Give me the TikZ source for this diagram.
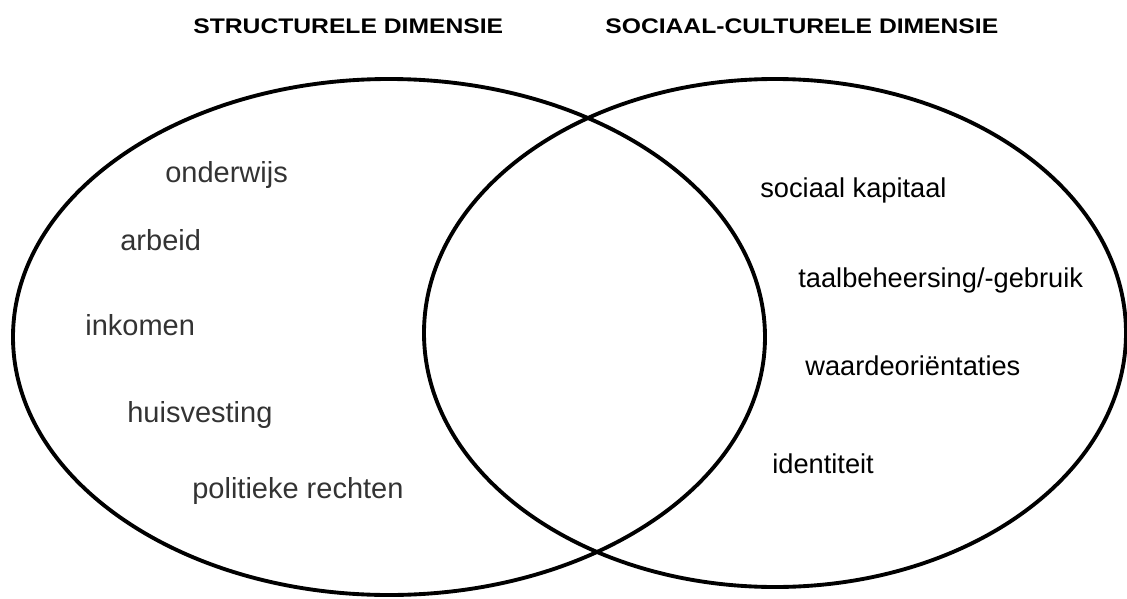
\documentclass[tikz,border=0pt]{standalone}
\usepackage{fontspec}
\setmainfont{Liberation Sans}
\newfontfamily\titlefont[FakeStretch=1.17]{Liberation Sans}
\usepackage{tikz}
\usetikzlibrary{shapes.geometric}

\begin{document}
\begin{tikzpicture}[
    venn/.style={draw, ellipse, line width=2.2pt, inner sep=0pt},
    dimtitle/.style={anchor=base west, inner sep=0pt, font=\titlefont\bfseries\fontsize{12}{14}\selectfont},
    leftlabel/.style={anchor=base west, inner sep=0pt, text=black!80, font=\fontsize{16.5}{19}\selectfont},
    rightlabel/.style={anchor=base west, inner sep=0pt, font=\fontsize{15.5}{18}\selectfont}
  ]
  \useasboundingbox (0,0) rectangle (22.54,-11.98);

  % the two dimensions
  \node[venn, minimum width=15.04cm, minimum height=10.32cm] (structureel) at (7.78,-6.74) {};
  \node[venn, minimum width=14.04cm, minimum height=10.16cm] (sociaal) at (15.5,-6.66) {};

  % titles
  \node[dimtitle] (titelS) at (3.86,-0.66) {STRUCTURELE DIMENSIE};
  \node[dimtitle] (titelC) at (12.1,-0.66) {SOCIAAL-CULTURELE DIMENSIE};

  % structural side
  \node[leftlabel] (onderwijs) at (3.30,-3.64) {onderwijs};
  \node[leftlabel] (arbeid) at (2.40,-5.00) {arbeid};
  \node[leftlabel] (inkomen) at (1.70,-6.70) {inkomen};
  \node[leftlabel] (huisvesting) at (2.54,-8.44) {huisvesting};
  \node[leftlabel] (rechten) at (3.84,-9.96) {politieke rechten};

  % socio-cultural side
  \node[rightlabel] (kapitaal) at (15.20,-3.94) {sociaal kapitaal};
  \node[rightlabel] (taal) at (15.96,-5.74) {taalbeheersing/-gebruik};
  \node[rightlabel] (waarden) at (16.10,-7.50) {waardeoriëntaties};
  \node[rightlabel] (identiteit) at (15.44,-9.46) {identiteit};
\end{tikzpicture}
\end{document}
